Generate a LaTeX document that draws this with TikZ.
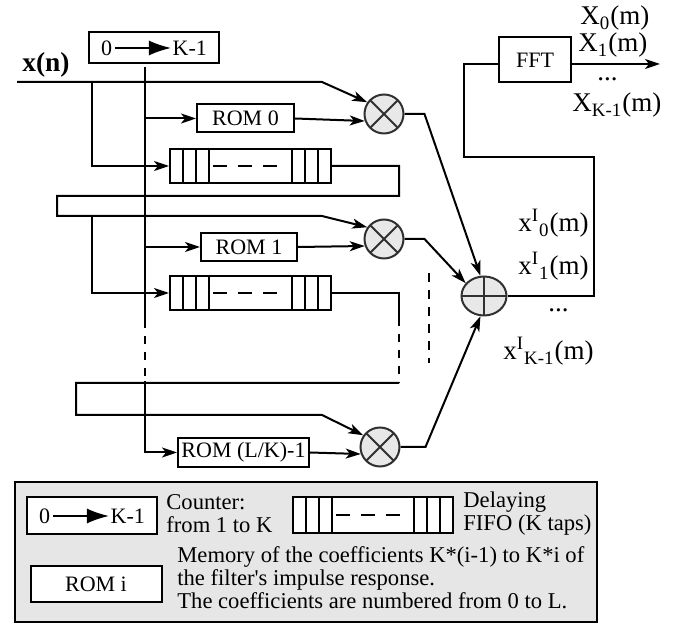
\documentclass[tikz,border=0pt]{standalone}
\usepackage{fontspec}
\setmainfont{Liberation Serif}
\usepackage{tikz}
\usetikzlibrary{arrows.meta, positioning, calc, shapes.geometric}
\definecolor{MulGray}{HTML}{E8E8E8}
\definecolor{KeyGray}{HTML}{E6E6E6}
\definecolor{RingGray}{HTML}{303030}
\newcommand{\cntarrow}{\hspace{1pt}\tikz[baseline=-3.6pt]\draw[line width=0.75pt,-{Latex[length=11pt,width=7.5pt]}] (0pt,0pt) -- (28pt,0pt);\hspace{0.5pt}}
\tikzset{
    wire/.style={line width=1pt},
    arr/.style={wire, -{Stealth[length=7.5pt,width=5pt,inset=2pt]}},
    dashline/.style={wire, dash pattern=on 4pt off 4pt},
    block/.style={rectangle, draw, line width=1pt, fill=white, inner sep=0pt, font=\fontsize{11}{13}\selectfont},
    cnt/.style={block, minimum width=65pt, minimum height=15.5pt},
    rom/.style={block, minimum height=14pt},
    fifo/.style={block, minimum width=80.5pt, minimum height=17pt,
        path picture={
            \draw[line width=0.8pt] foreach \d in {6.5pt,13pt,19.5pt} {
                ([xshift=\d]path picture bounding box.south west) -- ([xshift=\d]path picture bounding box.north west)
                ([xshift=-\d]path picture bounding box.south east) -- ([xshift=-\d]path picture bounding box.north east)};
            \draw[line width=0.8pt, dash pattern=on 7pt off 5.5pt] ([xshift=21.5pt]path picture bounding box.west) -- ([xshift=53.5pt]path picture bounding box.west);
        }},
    mult/.style={circle, draw=RingGray, fill=MulGray, line width=1pt, minimum size=19.5pt, inner sep=0pt,
        path picture={
            \draw[line width=1pt, RingGray] (path picture bounding box.north west) -- (path picture bounding box.south east)
                (path picture bounding box.south west) -- (path picture bounding box.north east);
        }},
    adder/.style={ellipse, draw=RingGray, fill=MulGray, line width=1pt, minimum width=22.5pt, minimum height=19.5pt, inner sep=0pt,
        path picture={
            \draw[line width=1pt, RingGray] (path picture bounding box.north) -- (path picture bounding box.south)
                (path picture bounding box.west) -- (path picture bounding box.east);
        }},
    lbl/.style={font=\fontsize{13.5}{15}\selectfont, inner sep=0pt, anchor=base west},
    note/.style={font=\fontsize{11.3}{12}\selectfont, inner sep=0pt, anchor=base west},
}

\begin{document}
\begin{tikzpicture}[x=0.5pt, y=-0.5pt]
\useasboundingbox (0,0) rectangle (675,624);

% counter, ROMs and FIFOs
\node[cnt] (cnt) at (154,48) {0\cntarrow K-1};
\node[rom, minimum width=48.5pt] (rom0) at (245.5,118.5) {ROM 0};
\node[fifo] (fifo0) at (250.5,166) {};
\node[rom, minimum width=48pt] (rom1) at (249,247) {ROM 1};
\node[fifo] (fifo1) at (250.5,293) {};
\node[rom, minimum width=65.5pt, minimum height=14.5pt] (romL) at (243.5,452.5) {ROM (L/K)-1};

% multipliers, adder, FFT
\node[mult] (mul0) at (384,114) {};
\node[mult] (mul1) at (384,239) {};
\node[mult] (mulL) at (380,447) {};
\node[adder] (sum) at (484,296) {};
\node[block, minimum width=36pt, minimum height=22.5pt] (fft) at (535,60) {FFT};

% free ends
\coordinate (xin) at (17,82);
\coordinate (tap0) at (92,82);
\coordinate (tap1) at (92,216);
\coordinate (bustop) at (145,67);
\coordinate (busgap) at (145,320);
\coordinate (busback) at (145,381);
\coordinate (xout) at (660,64);
\coordinate (dotstop) at (429,273);
\coordinate (dotsbot) at (429,363);

% labels
\node[lbl, font=\fontsize{13.7}{15}\selectfont\bfseries] (xn) at (22,72) {x(n)};
\node[lbl] (X0) at (580,25) {X\textsubscript{0}(m)};
\node[lbl] (X1) at (578,52) {X\textsubscript{1}(m)};
\node[lbl] (Xdots) at (597,81) {...};
\node[lbl] (XK) at (572,112) {X\textsubscript{K-1}(m)};
\node[lbl] (xI0) at (518,232) {x\textsuperscript{I}\textsubscript{0}(m)};
\node[lbl] (xI1) at (518,275) {x\textsuperscript{I}\textsubscript{1}(m)};
\node[lbl] (xIdots) at (548,312) {...};
\node[lbl] (xIK) at (503,360) {x\textsuperscript{I}\textsubscript{K-1}(m)};

% counter bus
\draw[wire] (bustop) -- (busgap);
\draw[dashline] (busgap) -- (busback);
\draw[arr] (busback) |- (romL.west);
\draw[arr] (bustop |- rom0.west) -- (rom0.west);
\draw[arr] (bustop |- rom1.west) -- (rom1.west);

% input and delay line
\draw[arr] (xin) -- (322,82) -- (mul0.145);
\draw[arr] (tap0) |- (fifo0.west);
\draw[arr] (fifo0.east) -| (399,196) -| (57,216) -- (322,216) -- (mul1.145);
\draw[arr] (tap1) |- (fifo1.west);
\draw[wire] (fifo1.east) -| (399,318);
\draw[dashline] (399,318) -- (399,383);
\draw[arr] (399,383) -| (76,415) -- (322,415) -- (mulL.145);

% coefficients
\draw[arr] (rom0.east) -- (mul0.200);
\draw[arr] (rom1.east) -- (mul1.200);
\draw[arr] (romL.east) -- (mulL.200);

% products to adder
\draw[arr] (mul0.east) -- ++(20,0) -- (sum.100);
\draw[arr] (mul1.east) -- ++(20,0) -- (sum.145);
\draw[arr] (mulL.east) -- ++(25,0) -- (sum.260);
\draw[dashline, dash pattern=on 4.5pt off 4pt] (dotstop) -- (dotsbot);

% adder to FFT
\draw[wire] (sum.east) -| (594,157) -| (464,64) -- ([yshift=-2pt]fft.west);
\draw[arr] ([yshift=-2pt]fft.east) -- (xout);

% legend
\node[draw, fill=KeyGray, line width=1.2pt, minimum width=291pt, minimum height=70pt, inner sep=0pt] (key) at (306,552) {};
\node[cnt, minimum height=18.5pt] (keycnt) at (92,516) {0\cntarrow K-1};
\node[note] (keycnt1) at (166,510) {Counter:};
\node[note] (keycnt2) at (166,533) {from 1 to K};
\node[fifo, minimum width=80pt, minimum height=18pt] (keyfifo) at (373,515) {};
\node[note] (keyfifo1) at (463,508) {Delaying};
\node[note] (keyfifo2) at (463,531) {FIFO (K taps)};
\node[rom, minimum width=65.5pt, minimum height=18pt] (keyrom) at (96,584) {ROM i};
\node[note] (keyrom1) at (177,563) {Memory of the coefficients K*(i-1) to K*i of};
\node[note] (keyrom2) at (177,586) {the filter\textquotesingle s impulse response.};
\node[note] (keyrom3) at (177,609) {The coefficients are numbered from 0 to L.};

\end{tikzpicture}
\end{document}
